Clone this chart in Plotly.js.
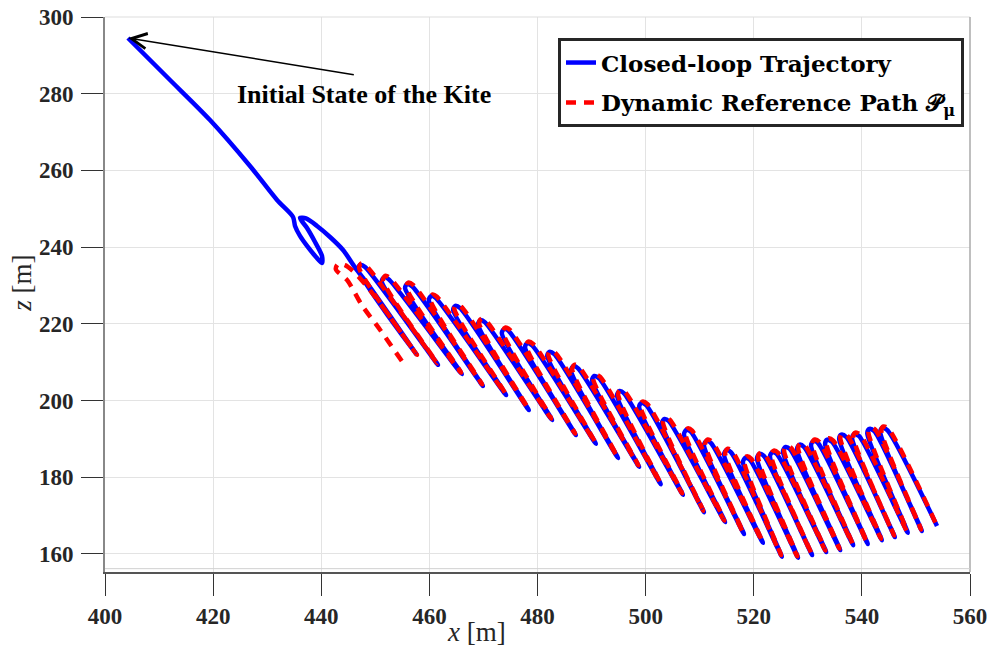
<!DOCTYPE html>
<html>
<head>
<meta charset="utf-8">
<script src="https://cdn.plot.ly/plotly-3.0.1.min.js"></script>
<style>
  html, body { margin: 0; padding: 0; background: #ffffff; }
  #chart { width: 992px; height: 648px; }
</style>
</head>
<body>
<div id="chart"></div>
<script>
// ---- Data (x [m], z [m]) ----
// Closed-loop trajectory: initial descent, first small loop and the arc leading into the loops
const blueStartX = [404.25, 411.84, 419.42, 426.82, 431.82, 434.78,
  435.15, 436.07, 437.37, 439.03, 440.14, 440.14, 438.85, 437.37, 436.07,
  437.18, 439.22, 441.62, 444.03, 446.30, 448.80, 453.27, 457.7];
const blueStartY = [294.53, 283.84, 273.15, 261.16, 252.29, 247.86,
  245.52, 242.91, 240.30, 237.43, 235.87, 237.69, 241.35, 245.00, 247.60,
  247.47, 245.52, 242.65, 239.26, 234.60, 230.00, 221.01, 211.9];

// Closed-loop trajectory loops: per loop -> left shoulder, hook top, right shoulder, bottom tip
const blueLoopX = [
  446.8, 447.25, 448.1, 461.6,
  451.2, 451.7, 452.5, 466.0,
  455.5, 455.9, 456.8, 469.9,
  459.9, 460.4, 461.2, 474.2,
  464.4, 464.8, 465.7, 478.4,
  469.0, 469.5, 470.3, 482.7,
  473.4, 473.9, 474.7, 487.1,
  477.7, 478.1, 479.0, 490.8,
  481.8, 482.2, 483.1, 494.9,
  486.2, 486.7, 487.5, 498.8,
  490.1, 490.5, 491.4, 502.8,
  494.7, 495.2, 496.0, 506.9,
  498.8, 499.2, 500.1, 510.8,
  503.0, 503.5, 504.3, 514.7,
  507.1, 507.6, 508.4, 518.2,
  510.8, 511.3, 512.1, 521.7,
  514.5, 515.0, 515.8, 525.2,
  518.0, 518.5, 519.3, 528.2,
  520.6, 521.1, 521.9, 530.8,
  523.0, 523.5, 524.3, 533.4,
  525.4, 525.9, 526.7, 536.0,
  528.0, 528.5, 529.3, 538.4,
  530.6, 531.1, 531.9, 541.1,
  533.2, 533.6, 534.5, 543.7,
  535.8, 536.2, 537.1, 546.1,
  538.2, 538.6, 539.5, 548.5,
  541.0, 541.4, 542.3, 551.1,
  543.4, 543.8, 544.7, 553.9
];
const blueLoopY = [
  234.3, 235.4, 234.8, 209.3,
  231.1, 232.2, 231.6, 206.9,
  229.3, 230.4, 229.8, 203.8,
  226.2, 227.3, 226.7, 201.4,
  223.6, 224.7, 224.1, 197.5,
  219.9, 221.0, 220.4, 194.9,
  217.6, 218.7, 218.1, 191.0,
  213.9, 215.0, 214.4, 188.7,
  211.6, 212.7, 212.1, 185.0,
  207.9, 209.0, 208.4, 182.7,
  205.3, 206.4, 205.8, 178.2,
  201.4, 202.5, 201.9, 175.4,
  198.3, 199.4, 198.8, 170.9,
  194.1, 195.2, 194.6, 168.3,
  191.3, 192.4, 191.8, 165.2,
  188.4, 189.5, 188.9, 162.9,
  186.0, 187.1, 186.5, 159.3,
  184.0, 185.1, 184.5, 159.0,
  185.0, 186.1, 185.5, 159.7,
  185.5, 186.6, 186.0, 160.5,
  186.8, 187.9, 187.3, 161.0,
  187.4, 188.5, 187.9, 162.3,
  188.4, 189.5, 188.9, 162.6,
  188.7, 189.8, 189.2, 163.6,
  190.0, 191.1, 190.5, 164.4,
  190.2, 191.3, 190.7, 165.5,
  191.5, 192.6, 192.0, 166.0,
  191.8, 192.9, 192.3, 167.3
];

// Dynamic reference path: first (red-only) loop, then loops lying just over the trajectory
const redStartX = [454.9, 450.9, 447.5, 444.8, 442.7, 443.1, 444.4, 446.25, 449.0, 452.7, 457.7];
const redStartY = [210.3, 218.4, 224.9, 231.4, 234.2, 235.6, 235.3, 233.26, 228.8, 221.8, 211.9];
const redLoopX = [
  447.0, 447.45, 448.3, 461.45,
  451.4, 451.9, 452.7, 465.85,
  455.7, 456.1, 457.0, 469.75,
  460.1, 460.6, 461.4, 474.05,
  464.6, 465.0, 465.9, 478.25,
  469.2, 469.7, 470.5, 482.55,
  473.6, 474.1, 474.9, 486.95,
  477.9, 478.3, 479.2, 490.65,
  482.0, 482.4, 483.3, 494.75,
  486.4, 486.9, 487.7, 498.65,
  490.3, 490.7, 491.6, 502.65,
  494.9, 495.4, 496.2, 506.75,
  499.0, 499.4, 500.3, 510.65,
  503.2, 503.7, 504.5, 514.55,
  507.3, 507.8, 508.6, 518.05,
  511.0, 511.5, 512.3, 521.55,
  514.7, 515.2, 516.0, 525.05,
  518.2, 518.7, 519.5, 528.05,
  520.8, 521.3, 522.1, 530.65,
  523.2, 523.7, 524.5, 533.25,
  525.6, 526.1, 526.9, 535.85,
  528.2, 528.7, 529.5, 538.25,
  530.8, 531.3, 532.1, 540.95,
  533.4, 533.8, 534.7, 543.55,
  536.0, 536.4, 537.3, 545.95,
  538.4, 538.8, 539.7, 548.35,
  541.2, 541.6, 542.5, 550.95,
  543.6, 544.0, 544.9, 553.9
];
const redLoopY = [
  234.65, 235.75, 235.15, 209.7,
  231.45, 232.55, 231.95, 207.3,
  229.65, 230.75, 230.15, 204.2,
  226.55, 227.65, 227.05, 201.8,
  223.95, 225.05, 224.45, 197.9,
  220.25, 221.35, 220.75, 195.3,
  217.95, 219.05, 218.45, 191.4,
  214.25, 215.35, 214.75, 189.1,
  211.95, 213.05, 212.45, 185.4,
  208.25, 209.35, 208.75, 183.1,
  205.65, 206.75, 206.15, 178.6,
  201.75, 202.85, 202.25, 175.8,
  198.65, 199.75, 199.15, 171.3,
  194.45, 195.55, 194.95, 168.7,
  191.65, 192.75, 192.15, 165.6,
  188.75, 189.85, 189.25, 163.3,
  186.35, 187.45, 186.85, 159.7,
  184.35, 185.45, 184.85, 159.4,
  185.35, 186.45, 185.85, 160.1,
  185.85, 186.95, 186.35, 160.9,
  187.15, 188.25, 187.65, 161.4,
  187.75, 188.85, 188.25, 162.7,
  188.75, 189.85, 189.25, 163.0,
  189.05, 190.15, 189.55, 164.0,
  190.35, 191.45, 190.85, 164.8,
  190.55, 191.65, 191.05, 165.9,
  191.85, 192.95, 192.35, 166.4,
  192.15, 193.25, 192.65, 167.3
];

const xTicks = [400, 420, 440, 460, 480, 500, 520, 540, 560];
const yTicks = [160, 180, 200, 220, 240, 260, 280, 300];
const initialPoint = [404.3, 294.5];
const arrowTail = [446.3, 284.9];
const labelPos = [447.9, 279.9];

// ---- Traces ----
const blue = {
  x: blueStartX.concat(blueLoopX), y: blueStartY.concat(blueLoopY),
  type: 'scatter', mode: 'lines', name: 'Closed-loop Trajectory',
  legendgroup: 'a',
  line: { color: 'rgb(0,0,255)', width: 4.5, shape: 'spline', smoothing: 0.8 }
};
const red = {
  x: redStartX.concat(redLoopX), y: redStartY.concat(redLoopY),
  type: 'scatter', mode: 'lines', name: 'Dynamic Reference Path 𝒫<sub>μ</sub>',
  legendgroup: 'b',
  line: { color: 'rgb(255,0,0)', width: 4.5, dash: '10px,8px', shape: 'spline', smoothing: 0.8 }
};

const tickFont = { family: 'Liberation Serif, Times New Roman, serif', size: 23, color: '#262626', weight: 'bold' };

const layout = {
  width: 992, height: 648,
  margin: { l: 105, r: 22, t: 17, b: 76 },
  paper_bgcolor: '#ffffff', plot_bgcolor: '#ffffff',
  showlegend: true,
  legend: {
    x: 0.5237, y: 0.962, xanchor: 'left', yanchor: 'top',
    bgcolor: '#ffffff', bordercolor: '#262626', borderwidth: 3,
    font: { family: 'DejaVu Serif, serif', size: 23, color: '#000000', weight: 'bold' },
    tracegroupgap: 7, traceorder: 'grouped'
  },
  xaxis: {
    range: [400, 560], tickvals: xTicks, ticktext: xTicks.map(String),
    ticks: 'outside', ticklen: 22, tickwidth: 1, tickcolor: '#333333',
    showline: true, linecolor: '#555555', linewidth: 2, mirror: false,
    showgrid: true, gridcolor: '#e3e3e3', gridwidth: 1, zeroline: false,
    tickfont: tickFont, ticklabelstandoff: 0
  },
  yaxis: {
    range: [155.3, 300], tickvals: yTicks, ticktext: yTicks.map(String),
    ticks: 'outside', ticklen: 22, tickwidth: 1, tickcolor: '#333333',
    showline: true, linecolor: '#888888', linewidth: 2, mirror: false,
    showgrid: true, gridcolor: '#e3e3e3', gridwidth: 1, zeroline: false,
    tickfont: tickFont, ticklabelstandoff: 3
  },
  shapes: [
    { type: 'line', xref: 'paper', yref: 'paper', x0: 0, x1: 1, y0: 1, y1: 1, line: { color: '#dddddd', width: 1 } },
    { type: 'line', xref: 'paper', yref: 'paper', x0: 1, x1: 1, y0: 0, y1: 1, line: { color: '#aaaaaa', width: 1.5 } },
    { type: 'line', xref: 'paper', yref: 'paper', x0: 0, x1: 1, y0: 0.006, y1: 0.006, line: { color: '#d0d0d0', width: 1 } }
  ],
  annotations: [
    { x: initialPoint[0], y: initialPoint[1], xref: 'x', yref: 'y',
      ax: arrowTail[0], ay: arrowTail[1], axref: 'x', ayref: 'y',
      text: '', showarrow: true, arrowhead: 5, arrowsize: 2, arrowwidth: 1.5, arrowcolor: '#000000', standoff: 0 },
    { x: labelPos[0], y: labelPos[1], xref: 'x', yref: 'y', showarrow: false,
      text: 'Initial State of the Kite',
      font: { family: 'Liberation Serif, Times New Roman, serif', size: 26, color: '#000000', weight: 'bold' } },
    { x: 0.429, y: -0.108, xref: 'paper', yref: 'paper', xanchor: 'center', yanchor: 'middle', showarrow: false,
      text: '<i>x</i> [m]', font: { family: 'Liberation Serif, serif', size: 27, color: '#262626' } },
    { x: -0.096, y: 0.521, xref: 'paper', yref: 'paper', xanchor: 'center', yanchor: 'middle', showarrow: false, textangle: -90,
      text: '<i>z</i> [m]', font: { family: 'Liberation Serif, serif', size: 27, color: '#262626' } }
  ]
};

Plotly.newPlot('chart', [blue, red], layout, { displayModeBar: false, staticPlot: true });
</script>
</body>
</html>
